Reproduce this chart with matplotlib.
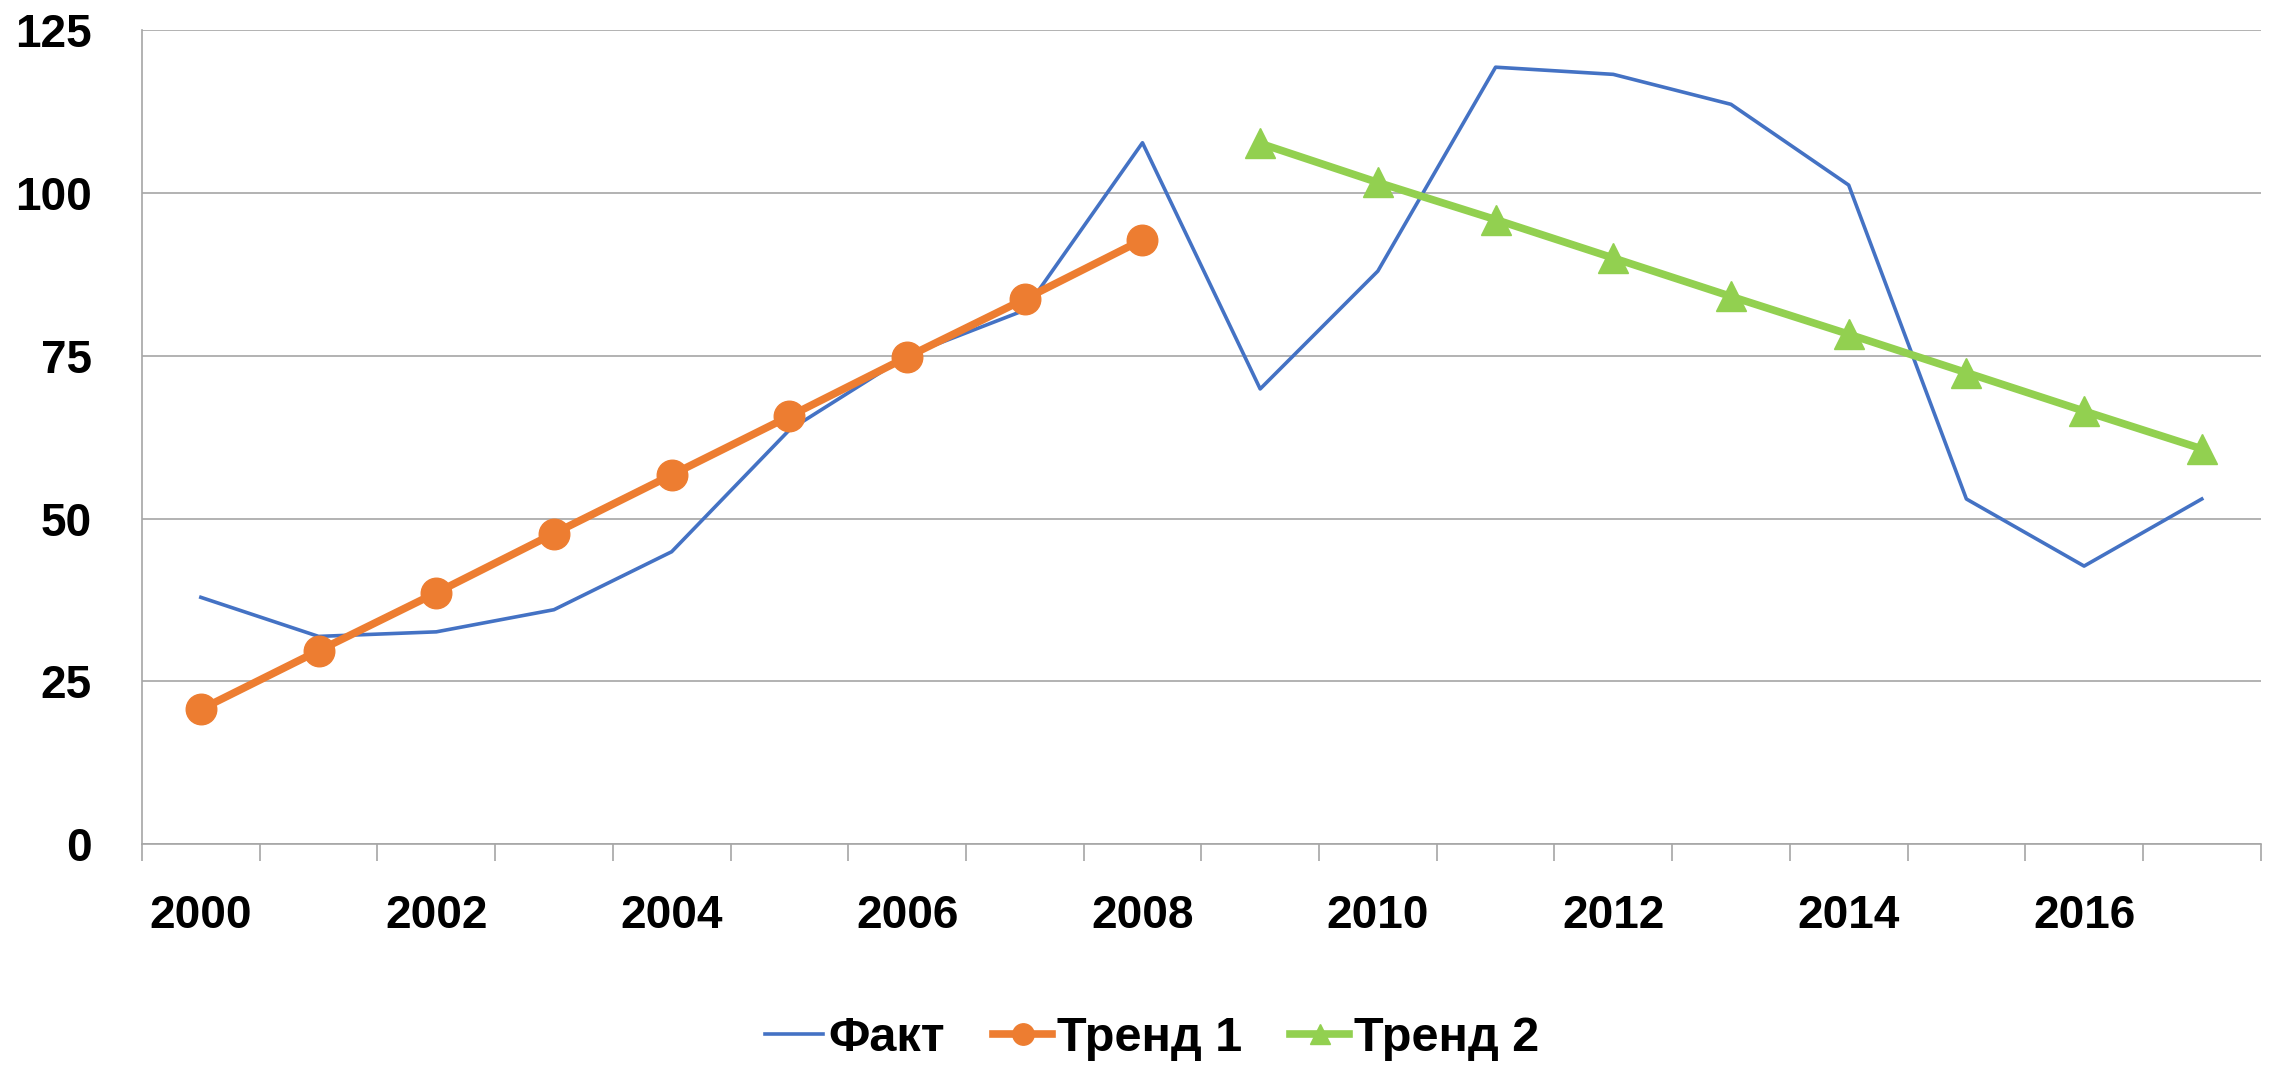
import matplotlib

matplotlib.use("Agg")

import matplotlib.pyplot as plt  # noqa: E402
import numpy as np  # noqa: E402

years = list(range(2000, 2018))
fact = [37.9, 31.9, 32.6, 36.0, 44.9, 63.6, 75.0, 82.0, 107.7,
        69.9, 88.0, 119.3, 118.2, 113.6, 101.2, 53.0, 42.7, 53.0]
trend1 = [20.7, 29.7, 38.6, 47.7, 56.7, 65.7, 74.8, 83.7, 92.8]
trend2 = [107.6, 101.6, 95.9, 90.0, 84.1, 78.3, 72.4, 66.5, 60.7]
y_ticks = [0, 25, 50, 75, 100, 125]

plt.rcParams["font.family"] = ["Liberation Sans", "DejaVu Sans"]
plt.rcParams["font.weight"] = "bold"

figure = plt.figure(figsize=(22.72, 10.74), dpi=100, facecolor="white")
axes = figure.add_axes([0.0625, 0.214, 0.9325, 0.758])

x_all = np.arange(len(years))
x_trend1 = x_all[: len(trend1)]
x_trend2 = x_all[len(years) - len(trend2):]

axes.plot(x_all, fact, color="#4472C4", linewidth=2.6, label="Факт", zorder=3)
axes.plot(x_trend1, trend1, color="#ED7D31", linewidth=5.5, marker="o",
          markersize=22, label="Тренд 1", zorder=4)
axes.plot(x_trend2, trend2, color="#92D050", linewidth=5.5, marker="^",
          markersize=21, label="Тренд 2", zorder=4)

axes.set_xlim(-0.5, len(years) - 0.5)
axes.set_ylim(0, 125)
axes.set_yticks(y_ticks)
axes.set_xticks(x_all[::2])
axes.set_xticklabels([str(y) for y in years[::2]])
axes.set_xticks(np.arange(-0.5, len(years)), minor=True)
axes.tick_params(axis="x", which="major", length=0, pad=36, labelsize=33)
axes.tick_params(axis="x", which="minor", length=12, width=1.2, color="#a6a6a6")
axes.tick_params(axis="y", length=0, pad=36, labelsize=33)
for label in axes.get_xticklabels() + axes.get_yticklabels():
    label.set_fontweight("bold")

axes.grid(axis="y", color="#a6a6a6", linewidth=1.2, zorder=0)
for side in ("top", "right"):
    axes.spines[side].set_visible(False)
axes.spines["left"].set_color("#a6a6a6")
axes.spines["bottom"].set_color("#a6a6a6")
axes.spines["left"].set_linewidth(1.2)
axes.spines["bottom"].set_linewidth(1.2)

figure.legend(
    loc="center",
    bbox_to_anchor=(0.507, 0.033),
    ncol=3,
    frameon=False,
    prop={"size": 35, "weight": "bold"},
    handlelength=1.2,
    handletextpad=0.1,
    columnspacing=1.0,
    markerscale=0.7,
)

figure.savefig("out.png", dpi=100, facecolor="white")
